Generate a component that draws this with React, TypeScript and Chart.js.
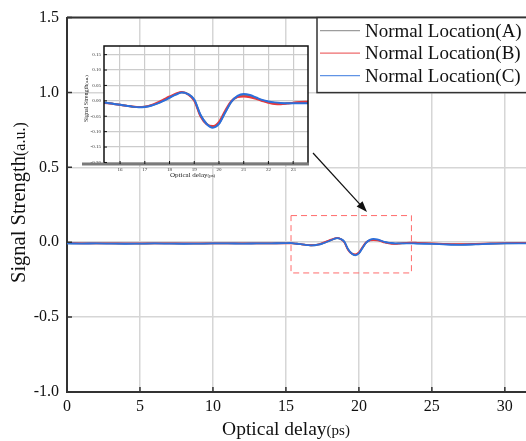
import React, { useEffect, useRef } from 'react';
import { Chart, registerables } from 'chart.js';
Chart.register(...registerables);

// ---------- data ----------
const delay = [
  0, 1, 2, 3, 4, 5, 6, 7, 8, 9, 10, 11, 12, 13, 14, 15,
  15.25, 15.5, 15.75, 16, 16.25, 16.5, 16.75, 17, 17.25, 17.5, 17.75, 18,
  18.25, 18.5, 18.75, 19, 19.25, 19.5, 19.75, 20, 20.25, 20.5, 20.75, 21,
  21.25, 21.5, 21.75, 22, 22.25, 22.5, 22.75, 23, 23.25, 23.5, 23.75, 24,
  25, 26, 27, 28, 29, 30, 31, 32,
];
const locationA = [
  -0.007, -0.008, -0.008, -0.008, -0.009, -0.009, -0.008, -0.008, -0.009, -0.009, -0.008, -0.008, -0.008, -0.008, -0.007, -0.006,
  -0.006, -0.007, -0.010, -0.013, -0.016, -0.019, -0.020, -0.019, -0.015, -0.008, 0.001, 0.011,
  0.021, 0.028, 0.022, 0.003, -0.046, -0.074, -0.085, -0.073, -0.037, -0.003, 0.014, 0.018,
  0.016, 0.009, 0.001, -0.004, -0.007, -0.009, -0.008, -0.007, -0.006, -0.006, -0.006, -0.007,
  -0.009, -0.013, -0.015, -0.013, -0.009, -0.007, -0.006, -0.006,
];
const locationB = [
  -0.006, -0.007, -0.007, -0.008, -0.008, -0.008, -0.007, -0.007, -0.008, -0.008, -0.007, -0.007, -0.007, -0.007, -0.007, -0.007,
  -0.007, -0.008, -0.010, -0.013, -0.016, -0.018, -0.020, -0.019, -0.014, -0.006, 0.004, 0.014,
  0.023, 0.029, 0.021, 0.000, -0.050, -0.076, -0.082, -0.068, -0.032, 0.000, 0.012, 0.014,
  0.012, 0.007, -0.001, -0.006, -0.010, -0.011, -0.009, -0.006, -0.004, -0.003, -0.003, -0.004,
  -0.007, -0.011, -0.013, -0.011, -0.008, -0.006, -0.005, -0.005,
];
const locationC = [
  -0.008, -0.009, -0.008, -0.009, -0.010, -0.009, -0.008, -0.009, -0.010, -0.009, -0.008, -0.008, -0.009, -0.008, -0.007, -0.006,
  -0.005, -0.007, -0.010, -0.013, -0.016, -0.019, -0.021, -0.020, -0.016, -0.009, 0.000, 0.010,
  0.020, 0.027, 0.022, 0.004, -0.045, -0.075, -0.087, -0.075, -0.038, -0.003, 0.016, 0.022,
  0.019, 0.011, 0.003, -0.002, -0.005, -0.007, -0.008, -0.008, -0.008, -0.008, -0.008, -0.009,
  -0.011, -0.015, -0.017, -0.014, -0.010, -0.008, -0.007, -0.007,
];
const seriesNames = ['Normal Location(A)', 'Normal Location(B)', 'Normal Location(C)'];
const seriesColors = ['#7c7c7c', '#e8393c', '#2b6fdc'];

const mainXTicks = [0, 5, 10, 15, 20, 25, 30];
const mainYTicks = [-1.0, -0.5, 0.0, 0.5, 1.0, 1.5];
const mainXRange = [0, 31.45];
const mainYRange = [-1.0, 1.5];

const insetXTicks = [16, 17, 18, 19, 20, 21, 22, 23];
const insetYTicks = [-0.2, -0.15, -0.1, -0.05, 0.0, 0.05, 0.1, 0.15];
const insetXRange = [15.35, 23.6];
const insetYRange = [-0.205, 0.178];

const FONT = "'Liberation Serif', 'Times New Roman', serif";

const allSeries = [locationA, locationB, locationC];

function makeDatasets(width: number) {
  return allSeries.map((arr, i) => ({
    label: seriesNames[i],
    data: delay.map((x, j) => ({ x, y: arr[j] })),
    borderColor: seriesColors[i],
    backgroundColor: seriesColors[i],
    borderWidth: width,
    pointRadius: 0,
    cubicInterpolationMode: 'monotone' as const,
    order: 3 - i,
  }));
}

const mainDecor = {
  id: 'mainDecor',
  afterDraw(chart: any) {
    const { ctx, chartArea: a, scales } = chart;
    const xs = scales.x;
    const ys = scales.y;
    ctx.save();
    // top frame
    ctx.strokeStyle = '#333';
    ctx.lineWidth = 2;
    ctx.beginPath();
    ctx.moveTo(a.left, a.top);
    ctx.lineTo(a.right, a.top);
    ctx.stroke();
    // inward ticks
    ctx.lineWidth = 1.5;
    ctx.beginPath();
    mainXTicks.forEach((v) => {
      const px = xs.getPixelForValue(v);
      ctx.moveTo(px, a.bottom);
      ctx.lineTo(px, a.bottom - 5);
    });
    mainYTicks.forEach((v) => {
      const py = ys.getPixelForValue(v);
      ctx.moveTo(a.left, py);
      ctx.lineTo(a.left + 5, py);
    });
    ctx.stroke();

    // axis titles
    ctx.fillStyle = '#111';
    ctx.textBaseline = 'alphabetic';
    ctx.textAlign = 'left';
    ctx.font = `19.5px ${FONT}`;
    const t1 = 'Optical delay';
    const w1 = ctx.measureText(t1).width;
    ctx.font = `15px ${FONT}`;
    const t2 = '(ps)';
    const w2 = ctx.measureText(t2).width;
    const x0 = 286 - (w1 + w2) / 2;
    ctx.font = `19.5px ${FONT}`;
    ctx.fillText(t1, x0, 435);
    ctx.font = `15px ${FONT}`;
    ctx.fillText(t2, x0 + w1, 435);

    ctx.save();
    ctx.translate(25, 283);
    ctx.rotate(-Math.PI / 2);
    ctx.font = `20.5px ${FONT}`;
    const s1 = 'Signal Strength';
    const sw = ctx.measureText(s1).width;
    ctx.fillText(s1, 0, 0);
    ctx.font = `16px ${FONT}`;
    ctx.fillText('(a.u.)', sw, 0);
    ctx.restore();

    // zoom box
    const bx1 = xs.getPixelForValue(insetXRange[0]);
    const bx2 = xs.getPixelForValue(insetXRange[1]);
    const by1 = ys.getPixelForValue(insetYRange[1]);
    const by2 = ys.getPixelForValue(insetYRange[0]);
    ctx.strokeStyle = '#ff6b6b';
    ctx.lineWidth = 1;
    ctx.setLineDash([6, 4]);
    ctx.strokeRect(bx1, by1, bx2 - bx1, by2 - by1);
    ctx.setLineDash([]);

    // arrow
    const ax1 = 313, ay1 = 153, ax2 = 367, ay2 = 212;
    ctx.strokeStyle = '#111';
    ctx.fillStyle = '#111';
    ctx.lineWidth = 1.2;
    const ang = Math.atan2(ay2 - ay1, ax2 - ax1);
    ctx.beginPath();
    ctx.moveTo(ax1, ay1);
    ctx.lineTo(ax2 - 8 * Math.cos(ang), ay2 - 8 * Math.sin(ang));
    ctx.stroke();
    ctx.beginPath();
    ctx.moveTo(ax2, ay2);
    ctx.lineTo(ax2 - 11 * Math.cos(ang) + 4 * Math.sin(ang), ay2 - 11 * Math.sin(ang) - 4 * Math.cos(ang));
    ctx.lineTo(ax2 - 11 * Math.cos(ang) - 4 * Math.sin(ang), ay2 - 11 * Math.sin(ang) + 4 * Math.cos(ang));
    ctx.closePath();
    ctx.fill();

    // legend
    const lx = 317, ly = a.top, lw = 240, lh = 75;
    ctx.fillStyle = '#fff';
    ctx.fillRect(lx, ly, lw, lh);
    ctx.strokeStyle = '#333';
    ctx.lineWidth = 1.5;
    ctx.strokeRect(lx, ly, lw, lh);
    ctx.font = `19px ${FONT}`;
    ctx.textBaseline = 'middle';
    seriesNames.forEach((name, i) => {
      const yy = ly + 13 + i * 22.5;
      ctx.strokeStyle = seriesColors[i];
      ctx.globalAlpha = 0.75;
      ctx.lineWidth = 1.2;
      ctx.beginPath();
      ctx.moveTo(320, yy);
      ctx.lineTo(360, yy);
      ctx.stroke();
      ctx.globalAlpha = 1;
      ctx.fillStyle = '#111';
      ctx.fillText(name, 365, yy + 1);
    });
    ctx.restore();
  },
};

const insetDecor = {
  id: 'insetDecor',
  beforeDraw(chart: any) {
    const { ctx, chartArea: a } = chart;
    ctx.save();
    ctx.fillStyle = '#fff';
    ctx.fillRect(a.left, a.top, a.right - a.left, a.bottom - a.top);
    ctx.restore();
  },
  afterDraw(chart: any) {
    const { ctx, chartArea: a, scales } = chart;
    const xs = scales.x;
    const ys = scales.y;
    ctx.save();
    // frame
    ctx.strokeStyle = '#111';
    ctx.lineWidth = 1.5;
    ctx.beginPath();
    ctx.moveTo(a.left, a.bottom);
    ctx.lineTo(a.left, a.top);
    ctx.lineTo(a.right, a.top);
    ctx.lineTo(a.right, a.bottom);
    ctx.stroke();
    ctx.strokeStyle = '#7a7a7a';
    ctx.lineWidth = 3;
    ctx.beginPath();
    ctx.moveTo(a.left - 22, a.bottom);
    ctx.lineTo(a.right + 1, a.bottom);
    ctx.stroke();
    // ticks
    ctx.strokeStyle = '#111';
    ctx.lineWidth = 1;
    ctx.beginPath();
    insetXTicks.forEach((v) => {
      const px = xs.getPixelForValue(v);
      ctx.moveTo(px, a.bottom);
      ctx.lineTo(px, a.bottom - 3);
    });
    insetYTicks.forEach((v) => {
      const py = ys.getPixelForValue(v);
      ctx.moveTo(a.left, py);
      ctx.lineTo(a.left + 3, py);
    });
    ctx.stroke();
    // titles
    ctx.fillStyle = '#222';
    ctx.textAlign = 'left';
    ctx.textBaseline = 'alphabetic';
    ctx.font = `7px ${FONT}`;
    const t1 = 'Optical delay';
    const w1 = ctx.measureText(t1).width;
    ctx.fillText(t1, 92, 137);
    ctx.font = `5px ${FONT}`;
    ctx.fillText('(ps)', 92 + w1, 137);

    ctx.save();
    ctx.translate(10, 82);
    ctx.rotate(-Math.PI / 2);
    ctx.font = `6px ${FONT}`;
    const s1 = 'Signal Strength';
    const sw = ctx.measureText(s1).width;
    ctx.fillText(s1, 0, 0);
    ctx.font = `4.5px ${FONT}`;
    ctx.fillText('(a.u.)', sw, 0);
    ctx.restore();
    ctx.restore();
  },
};

export default function App() {
  const mainRef = useRef<HTMLCanvasElement>(null);
  const insetRef = useRef<HTMLCanvasElement>(null);

  useEffect(() => {
    const main = new Chart(mainRef.current as HTMLCanvasElement, {
      type: 'line',
      data: { datasets: makeDatasets(1.8) as any },
      options: {
        animation: false,
        responsive: false,
        layout: { padding: { top: 15, left: 0, right: 0, bottom: 0 } },
        plugins: { legend: { display: false }, tooltip: { enabled: false } },
        scales: {
          x: {
            type: 'linear',
            min: mainXRange[0],
            max: mainXRange[1],
            afterBuildTicks: (s: any) => {
              s.ticks = mainXTicks.map((v) => ({ value: v }));
            },
            afterFit: (s: any) => {
              s.height = 49;
            },
            ticks: {
              font: { family: FONT, size: 16 },
              color: '#111',
              padding: 5,
              maxRotation: 0,
              callback: (v: any) => String(v),
            },
            grid: { color: '#d6d6d6', lineWidth: 1.5, drawTicks: false },
            border: { color: '#333', width: 2 },
          },
          y: {
            type: 'linear',
            min: mainYRange[0],
            max: mainYRange[1],
            afterBuildTicks: (s: any) => {
              s.ticks = mainYTicks.map((v) => ({ value: v }));
            },
            afterFit: (s: any) => {
              s.width = 67;
            },
            ticks: {
              font: { family: FONT, size: 16 },
              color: '#111',
              padding: 8,
              callback: (v: any) => Number(v).toFixed(1),
            },
            grid: { color: '#d6d6d6', lineWidth: 1.5, drawTicks: false },
            border: { color: '#333', width: 2 },
          },
        },
      },
      plugins: [mainDecor],
    });

    const inset = new Chart(insetRef.current as HTMLCanvasElement, {
      type: 'line',
      data: { datasets: makeDatasets(2) as any },
      options: {
        animation: false,
        responsive: false,
        layout: { padding: { top: 5, left: 0, right: 4, bottom: 0 } },
        plugins: { legend: { display: false }, tooltip: { enabled: false } },
        scales: {
          x: {
            type: 'linear',
            min: insetXRange[0],
            max: insetXRange[1],
            afterBuildTicks: (s: any) => {
              s.ticks = insetXTicks.map((v) => ({ value: v }));
            },
            afterFit: (s: any) => {
              s.height = 21;
            },
            ticks: {
              font: { family: FONT, size: 5 },
              color: '#333',
              padding: 3,
              maxRotation: 0,
              autoSkip: false,
              callback: (v: any) => String(v),
            },
            grid: { color: '#cccccc', lineWidth: 1.2, drawTicks: false },
            border: { display: false },
          },
          y: {
            type: 'linear',
            min: insetYRange[0],
            max: insetYRange[1],
            afterBuildTicks: (s: any) => {
              s.ticks = insetYTicks.map((v) => ({ value: v }));
            },
            afterFit: (s: any) => {
              s.width = 26;
            },
            ticks: {
              font: { family: FONT, size: 5 },
              color: '#333',
              padding: 3,
              autoSkip: false,
              callback: (v: any) => Number(v).toFixed(2),
            },
            grid: { color: '#cccccc', lineWidth: 1.2, drawTicks: false },
            border: { display: false },
          },
        },
      },
      plugins: [insetDecor],
    });

    return () => {
      main.destroy();
      inset.destroy();
    };
  }, []);

  return (
    <div style={{ position: 'fixed', left: 0, top: 0, width: 526, height: 441, background: '#fff', overflow: 'hidden' }}>
      <canvas ref={mainRef} width={526} height={441} style={{ position: 'absolute', left: 0, top: 0, width: 526, height: 441 }} />
      <canvas ref={insetRef} width={234} height={145} style={{ position: 'absolute', left: 78, top: 40, width: 234, height: 145 }} />
    </div>
  );
}
